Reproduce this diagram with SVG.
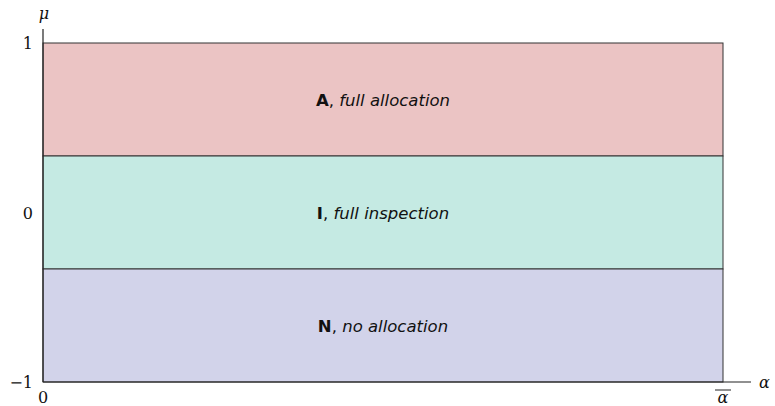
<svg xmlns="http://www.w3.org/2000/svg" width="775" height="406" viewBox="0 0 775 406">
<style>
.band{stroke:#333;stroke-width:1}
.lbl{font-family:"DejaVu Sans","Liberation Sans",sans-serif;font-size:16.5px;fill:#111;text-anchor:middle}
.lbl .b{font-weight:bold;font-style:normal}
.lbl .i{font-style:italic}
.ax{font-family:"DejaVu Serif","Liberation Serif",serif;font-size:16px;fill:#111}
.axis{stroke:#222;stroke-width:1.2;fill:none}
</style>
<rect width="775" height="406" fill="#ffffff"/>
<g id="regionA">
<rect class="band" x="43" y="43" width="680" height="113" fill="#ebc4c4"/>
<text class="lbl" x="383" y="106"><tspan class="b">A</tspan>, <tspan class="i">full allocation</tspan></text>
</g>
<g id="regionI">
<rect class="band" x="43" y="156" width="680" height="113" fill="#c5eae3"/>
<text class="lbl" x="383" y="219"><tspan class="b">I</tspan>, <tspan class="i">full inspection</tspan></text>
</g>
<g id="regionN">
<rect class="band" x="43" y="269" width="680" height="113" fill="#d2d3ea"/>
<text class="lbl" x="383" y="332"><tspan class="b">N</tspan>, <tspan class="i">no allocation</tspan></text>
</g>
<g id="axes">
<line class="axis" x1="43" y1="29" x2="43" y2="382"/>
<line class="axis" x1="43" y1="382" x2="751" y2="382"/>
</g>
<g id="ticks">
<text class="ax" x="44" y="19" font-style="italic" text-anchor="middle">μ</text>
<text class="ax" x="33" y="49" text-anchor="end">1</text>
<text class="ax" x="33" y="219" text-anchor="end">0</text>
<text class="ax" x="33" y="388" text-anchor="end">−1</text>
<text class="ax" x="43" y="403" text-anchor="middle">0</text>
<text class="ax" x="723" y="403" font-style="italic" text-anchor="middle">α</text>
<line x1="715" y1="390" x2="731" y2="390" stroke="#222" stroke-width="1"/>
<text class="ax" x="759" y="388" font-style="italic">α</text>
</g>
</svg>
